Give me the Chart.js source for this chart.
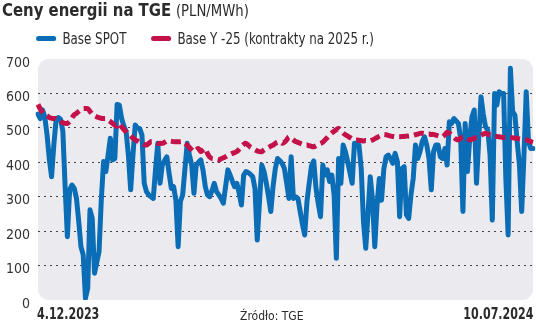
<!DOCTYPE html>
<html>
<head>
<meta charset="utf-8">
<script src="https://cdn.jsdelivr.net/npm/chart.js@4"></script>
<style>
  body { margin: 0; background: #fff; }
  #wrap { position: relative; width: 536px; height: 325px; overflow: hidden; font-family: "DejaVu Sans Condensed", "DejaVu Sans", sans-serif; color: #2b2b2b; }
  #wrap canvas { position: absolute; left: 0; top: 0; }
  .title { position: absolute; left: 2px; top: -1px; font-size: 18px; white-space: nowrap; transform: scaleX(0.92); transform-origin: left center; }
  .title b { font-weight: bold; }
  .title span { font-size: 16px; }
  .leg { position: absolute; top: 30px; font-size: 15px; white-space: nowrap; transform: scaleX(0.88); transform-origin: left center; }
  .leg i { display: inline-block; width: 23px; height: 5px; border-radius: 3px; vertical-align: middle; margin-right: 7px; position: relative; top: -1px; }
  .foot { position: absolute; top: 305px; font-size: 15px; white-space: nowrap; transform-origin: left center; }
</style>
</head>
<body>
<div id="wrap">
  <canvas id="chart" width="536" height="325"></canvas>
  <div class="title"><b>Ceny energii na TGE</b> <span>(PLN/MWh)</span></div>
  <div class="leg" style="left:36px"><i style="background:#0a6db5"></i>Base SPOT</div>
  <div class="leg" style="left:151px"><i style="background:#c5114a"></i>Base Y -25 (kontrakty na 2025 r.)</div>
  <div class="foot" style="left:37px;font-weight:bold;transform:scaleX(0.82)">4.12.2023</div>
  <div class="foot" style="left:240px;font-size:12px;top:309px">Źródło: TGE</div>
  <div class="foot" style="right:3px;font-weight:bold;transform:scaleX(0.82);transform-origin:right center">10.07.2024</div>
</div>
<script>
// daily values, 4.12.2023 - 10.07.2024 (PLN/MWh)
const startDate = new Date(2023, 11, 4);
const dayCount = 220;

const baseSpot = [
  540, 527, 552, 532, 480, 410, 358, 450, 523, 530,
  525, 490, 330, 184, 320, 334, 325, 296, 230, 155,
  131, 5, 34, 262, 237, 78, 110, 140, 290, 402,
  373, 420, 470, 407, 411, 568, 566, 527, 505, 489,
  420, 320, 420, 508, 500, 498, 479, 339, 315, 305,
  300, 295, 380, 455, 339, 392, 405, 416, 368, 324,
  329, 290, 155, 286, 305, 380, 455, 421, 392, 310,
  392, 400, 407, 378, 330, 305, 300, 318, 339, 315,
  305, 295, 281, 330, 378, 363, 345, 329, 339, 310,
  276, 363, 373, 370, 365, 358, 324, 174, 286, 392,
  373, 340, 300, 257, 330, 382, 411, 405, 397, 382,
  340, 295, 416, 295, 300, 295, 257, 220, 189, 286,
  340, 390, 404, 324, 280, 242, 392, 363, 378, 344,
  363, 305, 121, 411, 339, 450, 431, 402, 370, 339,
  455, 455, 450, 382, 228, 150, 250, 358, 290, 155,
  276, 353, 290, 380, 416, 421, 410, 397, 426, 402,
  242, 382, 387, 247, 237, 305, 353, 450, 411, 431,
  460, 474, 450, 411, 320, 431, 450, 450, 416, 411,
  440, 392, 518, 513, 527, 520, 513, 469, 257, 513,
  373, 469, 532, 552, 339, 469, 590, 540, 503, 494,
  421, 232, 600, 566, 605, 600, 600, 350, 189, 673,
  547, 537, 460, 392, 257, 420, 605, 460, 440, 440
];

const baseY25 = [
  568, 555, 545, 537, 535, 530, 528, 527, 527, 522,
  518, 515, 513, 513, 518, 528, 538, 542, 548, 553,
  556, 556, 556, 548, 540, 535, 532, 530, 528, 527,
  527, 522, 518, 513, 508, 505, 513, 503, 495, 489,
  483, 477, 470, 465, 462, 458, 455, 452, 450, 455,
  460, 460, 458, 455, 455, 455, 458, 462, 462, 461,
  460, 460, 460, 460, 460, 455, 450, 443, 436, 431,
  436, 440, 431, 436, 440, 425, 415, 411, 410, 408,
  407, 410, 413, 416, 420, 423, 426, 428, 431, 438,
  446, 452, 455, 450, 444, 440, 436, 433, 431, 431,
  436, 440, 443, 447, 450, 455, 458, 460, 455, 458,
  465, 474, 470, 465, 460, 458, 455, 452, 450, 450,
  448, 446, 445, 448, 452, 455, 458, 465, 472, 479,
  485, 490, 495, 498, 492, 485, 480, 476, 472, 468,
  465, 465, 464, 463, 462, 463, 462, 462, 465, 468,
  472, 476, 479, 481, 480, 478, 476, 475, 474, 474,
  474, 475, 475, 476, 476, 477, 478, 480, 482, 484,
  484, 483, 482, 482, 481, 481, 479, 477, 475, 474,
  480, 487, 485, 479, 472, 467, 465, 470, 474, 472,
  468, 465, 467, 470, 472, 474, 478, 482, 484, 482,
  479, 477, 476, 475, 474, 473, 472, 472, 471, 471,
  471, 470, 469, 468, 467, 466, 465, 463, 460, 458
];

const yTicks = [0, 100, 200, 300, 400, 500, 600, 700];

const labels = [];
for (let i = 0; i < dayCount; i++) {
  const d = new Date(startDate.getTime() + i * 86400000);
  labels.push(d.getDate() + '.' + (d.getMonth() + 1) + '.' + d.getFullYear());
}

// grey rounded panel behind the plot
const panelBg = {
  id: 'panelBg',
  beforeDraw(chart) {
    const { ctx, chartArea: a } = chart;
    ctx.save();
    ctx.fillStyle = '#ebebef';
    ctx.beginPath();
    ctx.roundRect(a.left, a.top, a.right - a.left, a.bottom - a.top, 11);
    ctx.fill();
    ctx.restore();
  }
};

new Chart(document.getElementById('chart'), {
  type: 'line',
  data: {
    labels: labels,
    datasets: [
      {
        label: 'Base SPOT',
        data: baseSpot,
        borderColor: '#0a6db5',
        borderWidth: 5,
        pointRadius: 0,
        tension: 0,
        borderJoinStyle: 'round',
        borderCapStyle: 'round',
        order: 2
      },
      {
        label: 'Base Y -25 (kontrakty na 2025 r.)',
        data: baseY25,
        borderColor: '#c5114a',
        borderWidth: 5,
        borderDash: [10, 5],
        pointRadius: 0,
        tension: 0.3,
        order: 1
      }
    ]
  },
  options: {
    responsive: false,
    animation: false,
    layout: { padding: { top: 59, right: 3, bottom: 25, left: 0 } },
    plugins: {
      legend: { display: false },
      title: { display: false },
      tooltip: { enabled: false }
    },
    scales: {
      x: {
        display: false,
        offset: false
      },
      y: {
        min: 0,
        max: 700,
        afterFit(scale) { scale.width = 38; },
        afterBuildTicks(scale) { scale.ticks = yTicks.map(v => ({ value: v })); },
        grid: {
          drawTicks: false,
          color: ctx => (ctx.tick.value > 0 && ctx.tick.value < 700) ? '#444' : 'rgba(0,0,0,0)',
          lineWidth: 1
        },
        border: { display: false, dash: [2, 4] },
        ticks: {
          padding: 8,
          labelOffset: 4,
          color: '#333',
          font: { family: '"DejaVu Sans Condensed", "DejaVu Sans", sans-serif', size: 14 }
        }
      }
    }
  },
  plugins: [panelBg]
});
</script>
</body>
</html>
